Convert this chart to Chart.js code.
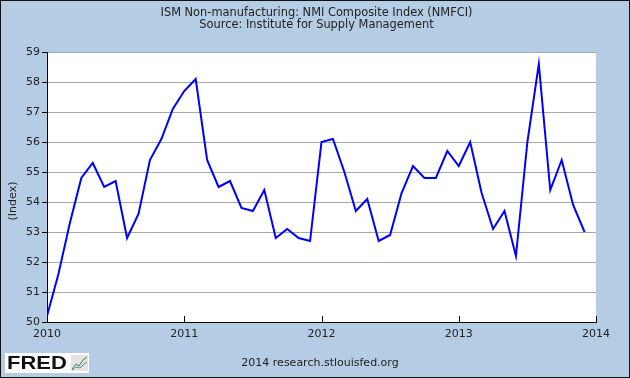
<!DOCTYPE html>
<html lang="en">
<head>
  <meta charset="UTF-8">
  <title>ISM Non-manufacturing: NMI Composite Index</title>
  <script src="https://cdn.jsdelivr.net/npm/chart.js@4.4.1/dist/chart.umd.min.js"></script>
  <style>
    html, body { margin: 0; padding: 0; background: #b4cde4; }
    #wrap { width: 630px; height: 378px; position: relative; }
  </style>
</head>
<body>
  <div id="wrap"><canvas id="nmfci" width="630" height="378"></canvas></div>

  <script>
    // monthly values, Jan 2010 .. Dec 2013
    const startYear = 2010;
    const nmi2010 = [50.2, 51.6, 53.3, 54.8, 55.3, 54.5, 54.7, 52.8, 53.6, 55.4, 56.1, 57.1];
    const nmi2011 = [57.7, 58.1, 55.4, 54.5, 54.7, 53.8, 53.7, 54.4, 52.8, 53.1, 52.8, 52.7];
    const nmi2012 = [56.0, 56.1, 55.0, 53.7, 54.1, 52.7, 52.9, 54.3, 55.2, 54.8, 54.8, 55.7];
    const nmi2013 = [55.2, 56.0, 54.3, 53.1, 53.7, 52.2, 56.0, 58.6, 54.4, 55.4, 53.9, 53.0];
    const yearTicks = [2010, 2011, 2012, 2013, 2014];
    const yMin = 50, yMax = 59;

    const values = [].concat(nmi2010, nmi2011, nmi2012, nmi2013);
    const points = values.map((v, i) => ({ x: startYear + i / 12, y: v }));

    const textColor = '#222';
    const font = 'DejaVu Sans';

    // background, frame, titles, footer, logo, inward year ticks
    const fredDecor = {
      id: 'fredDecor',
      beforeDraw(chart) {
        const c = chart.ctx;
        const a = chart.chartArea;
        c.save();
        c.fillStyle = '#b4cde4';
        c.fillRect(0, 0, chart.width, chart.height);
        c.fillStyle = '#fff';
        c.fillRect(a.left, a.top, a.right - a.left, a.bottom - a.top);
        c.restore();
      },
      afterDraw(chart) {
        const c = chart.ctx;
        const a = chart.chartArea;
        const xs = chart.scales.x;
        c.save();

        // year ticks pointing up into the plot
        c.strokeStyle = '#000';
        c.lineWidth = 1;
        yearTicks.forEach(t => {
          const px = Math.round(xs.getPixelForValue(t)) + 0.5;
          c.beginPath();
          c.moveTo(px, a.bottom);
          c.lineTo(px, a.bottom - 6);
          c.stroke();
        });

        c.fillStyle = textColor;
        c.textAlign = 'center';
        c.textBaseline = 'middle';
        c.font = '11.4px "' + font + '"';
        c.fillText('ISM Non-manufacturing: NMI Composite Index (NMFCI)', 316.5, 13);
        c.fillText('Source: Institute for Supply Management', 316.5, 25.5);
        c.font = '11px "' + font + '"';
        c.fillText('2014 research.stlouisfed.org', 320, 363);

        // y axis title
        c.save();
        c.translate(13, 201);
        c.rotate(-Math.PI / 2);
        c.fillText('(Index)', 0, 0);
        c.restore();

        // FRED logo
        c.fillStyle = '#fff';
        c.fillRect(5, 353, 84, 20);
        c.fillStyle = '#111';
        c.textAlign = 'left';
        c.save();
        c.translate(7, 364);
        c.scale(1.22, 1);
        c.font = 'bold 18px "Liberation Sans"';
        c.fillText('FRED', 0, 0);
        c.restore();
        c.fillStyle = '#e4e4e4';
        c.fillRect(71, 355, 17, 16);
        c.lineWidth = 1;
        c.strokeStyle = '#3a8a3a';
        c.beginPath();
        c.moveTo(72, 369); c.lineTo(76, 364); c.lineTo(79, 366); c.lineTo(83, 360); c.lineTo(87, 357);
        c.stroke();
        c.strokeStyle = '#5a7fc0';
        c.beginPath();
        c.moveTo(72, 370); c.lineTo(76, 367); c.lineTo(80, 368); c.lineTo(84, 364); c.lineTo(87, 362);
        c.stroke();

        // outer frame
        c.strokeStyle = '#111';
        c.lineWidth = 2;
        c.strokeRect(0, 0, chart.width, chart.height);
        c.restore();
      }
    };

    const ctx = document.getElementById('nmfci').getContext('2d');
    const nmiChart = new Chart(ctx, {
      type: 'line',
      data: {
        datasets: [{
          label: 'NMFCI',
          data: points,
          borderColor: '#0000ff',
          borderWidth: 2,
          pointRadius: 0,
          tension: 0,
          fill: false
        }]
      },
      options: {
        responsive: false,
        animation: false,
        layout: { padding: { left: 0, top: 52, right: 34, bottom: 0 } },
        plugins: {
          legend: { display: false },
          tooltip: { enabled: false }
        },
        scales: {
          x: {
            type: 'linear',
            min: 2010,
            max: 2014,
            afterFit(scale) { scale.height = 56; },
            afterBuildTicks(scale) { scale.ticks = yearTicks.map(v => ({ value: v })); },
            grid: { drawOnChartArea: false, drawTicks: false },
            border: { display: true, color: '#000', width: 1 },
            ticks: {
              padding: 6,
              maxRotation: 0,
              autoSkip: false,
              color: textColor,
              font: { family: font, size: 11 },
              callback: v => String(v)
            }
          },
          y: {
            min: yMin,
            max: yMax,
            afterFit(scale) { scale.width = 47; },
            grid: { color: '#a8a8a8', lineWidth: 1, tickLength: 5, tickColor: '#000' },
            border: { display: true, color: '#000', width: 1 },
            ticks: {
              stepSize: 1,
              padding: 2,
              color: textColor,
              font: { family: font, size: 11 }
            }
          }
        }
      },
      plugins: [fredDecor]
    });
  </script>
</body>
</html>
